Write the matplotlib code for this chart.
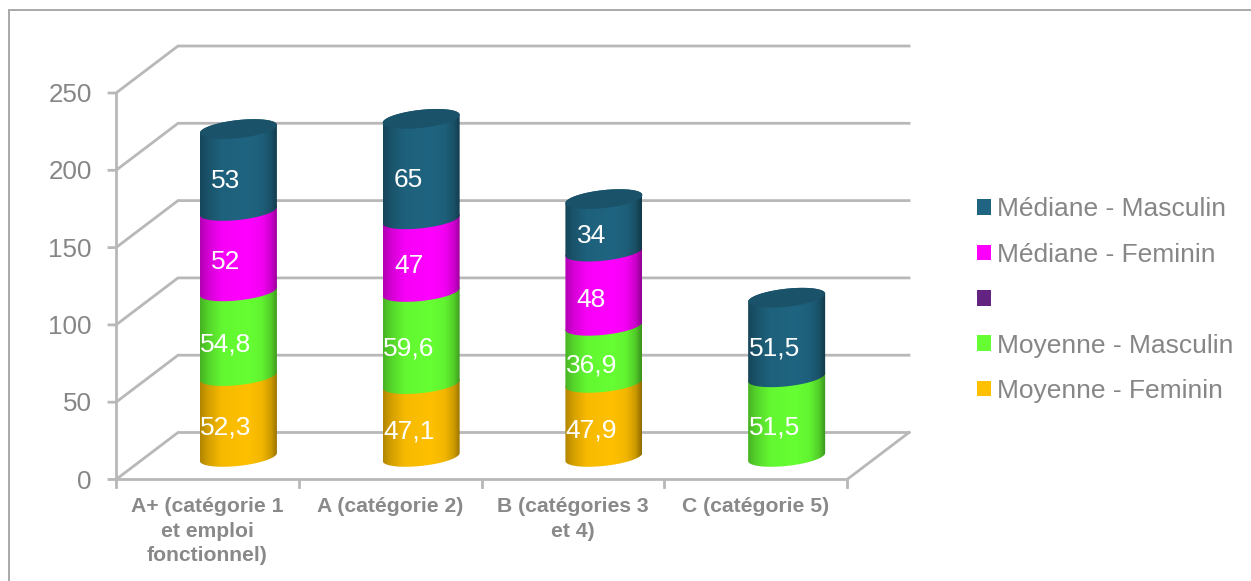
import matplotlib
matplotlib.use("Agg")
import matplotlib.pyplot as plt
from matplotlib.lines import Line2D
from matplotlib.patches import Patch, Polygon
from matplotlib.colors import to_rgb
import numpy as np

plt.rcParams['font.family'] = ['Liberation Sans', 'DejaVu Sans']

categories = ['A+ (catégorie 1\net emploi\nfonctionnel)', 'A (catégorie 2)',
              'B (catégories 3\net 4)', 'C (catégorie 5)']
moyenne_feminin = [52.3, 47.1, 47.9, 0]
moyenne_masculin = [54.8, 59.6, 36.9, 51.5]
blank_series = [0, 0, 0, 0]
mediane_feminin = [52, 47, 48, 0]
mediane_masculin = [53, 65, 34, 51.5]
y_ticks = [0, 50, 100, 150, 200, 250]

series = [moyenne_feminin, moyenne_masculin, blank_series, mediane_feminin, mediane_masculin]
names = ['Moyenne - Feminin', 'Moyenne - Masculin', ' ', 'Médiane - Feminin', 'Médiane - Masculin']
colors = ['#FFC000', '#66FF33', '#632380', '#FF00FF', '#1F6480']

# scale of the axes: pixels per category and per unit of value
PX_X = 182.75
PX_Y = 1.546
X0_PX = 207.4
Y0_PX = 479.5
W, H = 1251, 581

# depth of the fake 3D box, in data units
DEPTH_X = 62 / PX_X
DEPTH_Y = 47 / PX_Y

# cylinder shape
HALF_W = 38.5 / PX_X
ELL_B = 9.0 / PX_Y
ELL_S = 4 / PX_Y

GRID = '#b8b8b8'
TEXT = '#868686'


def px_x(p):
    return (p - X0_PX) / PX_X


def ellipse(cx, cy, t):
    return np.column_stack((cx + HALF_W * np.cos(t),
                            cy + ELL_S * np.cos(t) + ELL_B * np.sin(t)))


def shaded(ax, poly, cx, color, z):
    # horizontal gradient clipped to the outline, gives the round look
    stops = [0, .10, .28, .62, .80, .92, 1]
    levels = [.70, .83, .97, 1, .95, .80, .58]
    shade = np.interp(np.linspace(0, 1, 64), stops, levels)
    img = np.outer(shade, to_rgb(color)).reshape(1, 64, 3)
    im = ax.imshow(img, extent=(cx - HALF_W, cx + HALF_W, -100, 400),
                   aspect='auto', interpolation='bilinear', zorder=z)
    im.set_clip_path(Polygon(poly, transform=ax.transData))


def cylinder(ax, cx, y0, y1, color, z):
    front = ellipse(cx, y0, np.linspace(np.pi, 2 * np.pi, 60))
    back = ellipse(cx, y1, np.linspace(0, np.pi, 60))
    shaded(ax, np.vstack((front, back)), cx, color, z)


fig = plt.figure(figsize=(W / 100, H / 100), dpi=100)
ax = fig.add_axes([0, 0, 1, 1])

# outer frame, top and left only
fig.add_artist(Line2D([8.5 / W, 1], [1 - 10 / H, 1 - 10 / H], color='#a9a9a9', lw=1.4))
fig.add_artist(Line2D([8.5 / W, 8.5 / W], [0, 1 - 10 / H], color='#a9a9a9', lw=1.4))

left = px_x(116)
right = px_x(847)

# walls and floor
for v in y_ticks:
    ax.plot([left - 7 / PX_X, left, left + DEPTH_X, right + DEPTH_X],
            [v, v, v + DEPTH_Y, v + DEPTH_Y], color=GRID, lw=2, zorder=1,
            solid_joinstyle='miter')
    ax.text(px_x(92), v - 1.3, str(v), ha='right', va='center', fontsize=18.7, color=TEXT)
ax.plot([left, left], [0, y_ticks[-1]], color=GRID, lw=2, zorder=1)
ax.plot([left, right, right + DEPTH_X], [0, 0, DEPTH_Y], color=GRID, lw=2, zorder=1)
for i in range(len(categories) + 1):
    xt = left + i * (right - left) / len(categories)
    ax.plot([xt, xt], [0, -7 / PX_Y], color=GRID, lw=2, zorder=1)

# stacked cylinders
for i, cat in enumerate(categories):
    cx = i + DEPTH_X / 2
    base = DEPTH_Y * 0.48
    y = base
    z = 3
    last = None
    for values, color in zip(series, colors):
        v = values[i]
        if v == 0:
            continue
        cylinder(ax, cx, y, y + v, color, z)
        label = f'{v:g}'.replace('.', ',')
        ax.text(cx - 12.5 / PX_X, y + v / 2 - 7, label, ha='center', va='center',
                fontsize=19, color='white', zorder=20)
        y += v
        z += 1
        last = color
    # top cap
    cap = ellipse(cx, y, np.linspace(0, 2 * np.pi, 120))
    ax.add_patch(Polygon(cap, closed=True, fc=np.array(to_rgb(last)) * 0.82, ec='none', zorder=z))
    ax.text(i, -(497 - Y0_PX) / PX_Y, cat, ha='center', va='top', fontsize=15.2,
            fontweight='bold', color='#898989', linespacing=1.37)

ax.set_xlim(-X0_PX / PX_X, (W - X0_PX) / PX_X)
ax.set_ylim((Y0_PX - H) / PX_Y, Y0_PX / PX_Y)
ax.axis('off')

handles = [Patch(fc=c, ec='none') for c in colors[::-1]]
ax.legend(handles, names[::-1], loc='upper left', bbox_to_anchor=(977 / W, 1 - 197.5 / H),
          frameon=False, fontsize=19, labelcolor=TEXT, handlelength=0.53, handleheight=0.53,
          handletextpad=0.23, labelspacing=0.81, borderpad=0, borderaxespad=0)

fig.savefig('out.png', dpi=100)
